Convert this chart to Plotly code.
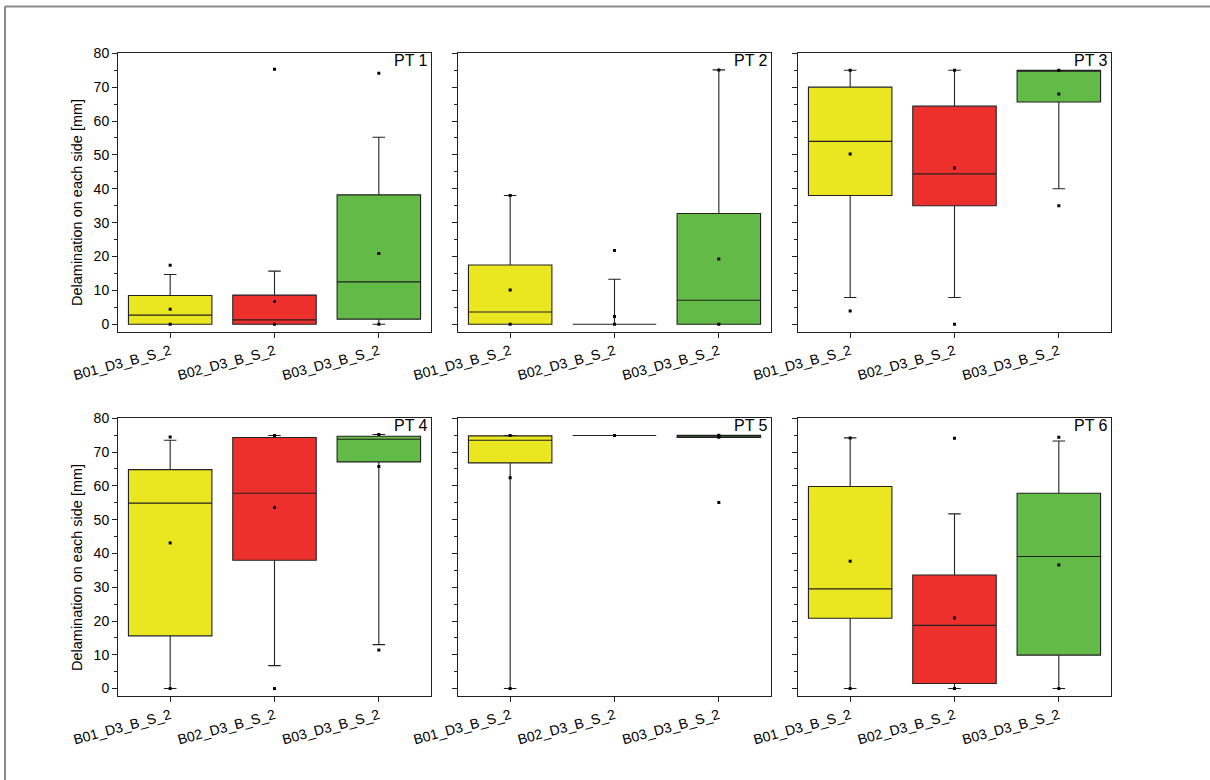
import plotly.graph_objects as go
from plotly.subplots import make_subplots

# Sample groups and panels
categories = ["B01_D3_B_S_2", "B02_D3_B_S_2", "B03_D3_B_S_2"]
panels = ["PT 1", "PT 2", "PT 3", "PT 4", "PT 5", "PT 6"]
colors = ["#EAE620", "#EE302C", "#62BA47"]

# Box statistics per panel (rows) and group (columns), in mm
q1 = [
    [0.0, 0.0, 1.5],
    [0.0, 0.0, 0.0],
    [38.0, 35.0, 65.6],
    [15.6, 38.0, 67.1],
    [66.8, 74.9, 74.3],
    [20.8, 1.5, 9.9],
]
median = [
    [2.7, 1.3, 12.5],
    [3.6, 0.0, 7.1],
    [54.0, 44.4, 75.0],
    [54.9, 57.8, 73.8],
    [73.5, 74.9, 74.7],
    [29.5, 18.7, 39.1],
]
q3 = [
    [8.5, 8.6, 38.2],
    [17.5, 0.0, 32.7],
    [70.0, 64.4, 75.0],
    [64.8, 74.3, 74.7],
    [74.8, 74.9, 75.0],
    [59.8, 33.6, 57.8],
]
whisker_low = [
    [0.0, 0.0, 0.0],
    [0.0, 0.0, 0.0],
    [7.9, 7.9, 40.0],
    [0.0, 6.8, 13.0],
    [0.0, 74.9, 74.3],
    [0.0, 0.0, 0.0],
]
whisker_high = [
    [14.7, 15.7, 55.2],
    [38.0, 13.3, 75.1],
    [75.0, 75.0, 75.0],
    [73.5, 74.9, 75.2],
    [74.9, 74.9, 75.0],
    [74.2, 51.7, 73.3],
]
mean = [
    [4.4, 6.7, 20.9],
    [10.1, 2.3, 19.3],
    [50.3, 46.1, 68.0],
    [43.1, 53.6, 65.7],
    [62.4, 74.9, 74.4],
    [37.7, 20.9, 36.6],
]
minimum = [
    [0.0, 0.0, 0.0],
    [0.0, 0.0, 0.0],
    [3.9, 0.0, 35.0],
    [0.0, 0.0, 11.4],
    [0.0, 74.9, 55.1],
    [0.0, 0.0, 0.0],
]
maximum = [
    [17.4, 75.3, 74.1],
    [38.0, 21.8, 75.1],
    [75.0, 75.0, 75.0],
    [74.5, 74.9, 75.2],
    [74.9, 74.9, 75.0],
    [74.2, 74.1, 74.4],
]

W, H = 1210, 780
FONT = "Liberation Sans, Arial, sans-serif"

fig = make_subplots(rows=2, cols=3)

for p in range(6):
    row, col = p // 3 + 1, p % 3 + 1
    for g, cat in enumerate(categories):
        fig.add_trace(
            go.Box(
                x=[cat],
                q1=[q1[p][g]],
                median=[median[p][g]],
                q3=[q3[p][g]],
                lowerfence=[whisker_low[p][g]],
                upperfence=[whisker_high[p][g]],
                width=0.8,
                whiskerwidth=0.15,
                fillcolor=colors[g],
                line=dict(color="#222222", width=1.1),
                boxpoints=False,
                showlegend=False,
                hoverinfo="skip",
            ),
            row=row, col=col,
        )
    # mean, minimum and maximum markers
    xs, ys = [], []
    for g, cat in enumerate(categories):
        for v in (mean[p][g], minimum[p][g], maximum[p][g]):
            xs.append(cat)
            ys.append(v)
    fig.add_trace(
        go.Scatter(
            x=xs, y=ys, mode="markers",
            marker=dict(symbol="square", size=3, color="black"),
            showlegend=False, hoverinfo="skip",
        ),
        row=row, col=col,
    )

# panel placement in pixels
x_px = [(118, 431), (458, 771), (798, 1111)]
y_px = [(53.3, 331.7), (418.3, 696.0)]

for p in range(6):
    r, c = p // 3, p % 3
    idx = "" if p == 0 else str(p + 1)
    x0, x1 = x_px[c]
    yt, yb = y_px[r]
    fig.layout["xaxis" + idx].update(
        domain=[x0 / W, x1 / W],
        automargin=False,
        type="category",
        categoryorder="array",
        categoryarray=categories,
        range=[-0.5, 2.5],
        tickangle=-15,
        ticks="outside",
        ticklen=5,
        tickcolor="#222222",
        showline=True,
        linecolor="#222222",
        linewidth=1,
        mirror=True,
        showgrid=False,
        zeroline=False,
        tickfont=dict(family=FONT, size=14, color="black"),
    )
    fig.layout["yaxis" + idx].update(
        domain=[1 - yb / H, 1 - yt / H],
        automargin=False,
        range=[-2.2, 80],
        tick0=0,
        dtick=10,
        ticks="outside",
        ticklen=5,
        tickcolor="#222222",
        minor=dict(dtick=5, tick0=0, ticks="outside", ticklen=3, tickcolor="#222222"),
        showticklabels=(c == 0),
        showline=True,
        linecolor="#222222",
        linewidth=1,
        mirror=True,
        showgrid=False,
        zeroline=False,
        tickfont=dict(family=FONT, size=14, color="black"),
    )
    fig.add_annotation(
        text=panels[p],
        xref="x" + idx + " domain", yref="y" + idx + " domain",
        x=1, y=1, xanchor="right", yanchor="top",
        xshift=-1, yshift=3,
        showarrow=False,
        font=dict(family=FONT, size=16, color="black"),
    )

# y-axis titles
for yc in (202, 567):
    fig.add_annotation(
        text="Delamination on each side [mm]",
        xref="paper", yref="paper",
        x=77 / W, y=1 - yc / H,
        xanchor="center", yanchor="middle",
        textangle=-90,
        showarrow=False,
        font=dict(family=FONT, size=14.5, color="black"),
    )

# outer frame lines (top and left)
fig.add_shape(type="line", xref="paper", yref="paper",
              x0=5 / W, x1=1, y0=1 - 6.5 / H, y1=1 - 6.5 / H,
              line=dict(color="#8a8a8a", width=2))
fig.add_shape(type="line", xref="paper", yref="paper",
              x0=5 / W, x1=5 / W, y0=0, y1=1 - 6.5 / H,
              line=dict(color="#8a8a8a", width=2))

fig.update_layout(
    width=W, height=H,
    margin=dict(l=0, r=0, t=0, b=0, autoexpand=False),
    paper_bgcolor="white",
    plot_bgcolor="white",
    boxmode="overlay",
    font=dict(family=FONT, size=14, color="black"),
)

fig.write_html("out.html")
